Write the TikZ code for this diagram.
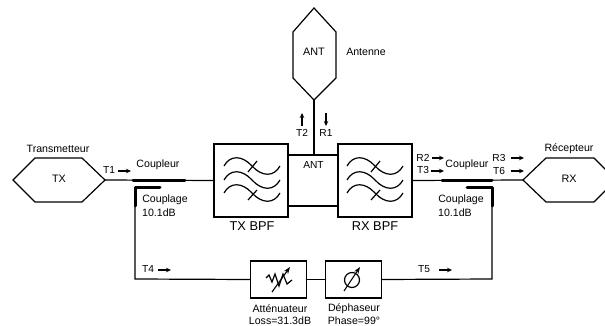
\documentclass[tikz,border=0pt]{standalone}
\usepackage{fontspec}
\setmainfont{Liberation Sans}
\usetikzlibrary{arrows.meta}
\tikzset{
  x=1pt,y=-1pt,
  wire/.style={line width=1.2pt,line join=miter},
  frame/.style={draw=black,line width=1.3pt,fill=white,inner sep=0pt,rectangle},
  thickwire/.style={line width=3pt,line cap=round,line join=round},
  lab/.style={inner sep=0pt,font=\fontsize{10.6}{12}\selectfont},
  small/.style={inner sep=0pt,font=\fontsize{10.2}{12}\selectfont},
  big/.style={inner sep=0pt,font=\fontsize{12.8}{14}\selectfont},
  flow/.style={line width=1.3pt,-{Stealth[length=5pt,width=4.5pt]}},
  wave/.style={line width=1.2pt},
}
\newcommand{\filtersym}[1]{%
  \begin{scope}[shift={(#1)}]
    \foreach \dy in {-14,0,13} {
      \draw[wave] (-28,\dy) .. controls (-22,{\dy-11}) and (-10,{\dy-11}) .. (0,\dy)
        .. controls (10,{\dy+11}) and (22,{\dy+11}) .. (28,\dy);
    }
    \draw[wave] (5,-19) -- (-4,-8);
    \draw[wave] (5,10) -- (-4,20);
  \end{scope}}
\begin{document}
\begin{tikzpicture}
\useasboundingbox (0,0) rectangle (605,326);
\begin{scope}
\clip (0,0) rectangle (605,326);
% hexagons
\draw[wire] (13,180) -- (35,158) -- (82,158) -- (105,180) -- (82,202) -- (35,202) -- cycle;
\draw[wire] (523,180) -- (546,158) -- (594,158) -- (616,180) -- (594,202) -- (546,202) -- cycle;
\draw[wire] (314,8) -- (336,32) -- (336,78) -- (314,100) -- (293,78) -- (293,32) -- cycle;
\end{scope}
\coordinate (txv) at (105,180);
\coordinate (rxv) at (523,180);
\coordinate (antv) at (314,100);
\node[inner sep=0pt,font=\fontsize{10.8}{12}\selectfont] (txh) at (59,179) {TX};
\node[inner sep=0pt,font=\fontsize{10.8}{12}\selectfont] (rxh) at (569,179) {RX};
\node[inner sep=0pt,font=\fontsize{10.8}{12}\selectfont] (anth) at (314,52) {ANT};
% boxes
\node[frame,minimum width=74pt,minimum height=73pt] (txbpf) at (251,180.5) {};
\node[frame,minimum width=74pt,minimum height=73pt] (rxbpf) at (375,180.5) {};
\node[frame,minimum width=56pt,minimum height=37pt] (att) at (278.5,279.5) {};
\node[frame,minimum width=56pt,minimum height=37pt] (phs) at (353.5,279.5) {};
% connectors
\coordinate (cp1a) at (133,180);
\coordinate (cp1b) at (185,180);
\coordinate (cp2a) at (442,180);
\coordinate (cp2b) at (492,180);
\coordinate (ca) at (160,187);
\coordinate (cc) at (135,187);
\coordinate (cd) at (135,206);
\coordinate (ce) at (135,279);
\coordinate (da) at (467,187);
\coordinate (dc) at (492,187);
\coordinate (dd) at (492,206);
\coordinate (de) at (492,279);
\coordinate (ja) at (313.5,155);
\coordinate (jb) at (313.5,206);
\draw[wire] (txv) -- (txbpf.west);
\draw[wire] (rxbpf.east) -- (rxv);
\draw[thickwire] (cp1a) -- (cp1b);
\draw[thickwire] (cp2a) -- (cp2b);
\draw[thickwire] (ca) -- (cc) -- (cd);
\draw[thickwire] (da) -- (dc) -- (dd);
\draw[wire] (cd) -- (ce) -- (att.west);
\draw[wire] (att.east) -- (phs.west);
\draw[wire] (phs.east) -- (de) -- (dd);
\draw[wire] (txbpf.east |- ja) -- (rxbpf.west |- ja);
\draw[wire] (txbpf.east |- jb) -- (rxbpf.west |- jb);
\draw[wire] (antv) -- (antv |- ja);
% filter symbols
\filtersym{252,180}
\filtersym{375,180}
% attenuator symbol
\draw[wave] (266,278) -- (269,275) -- (272,282) -- (275,274) -- (279,286) -- (283,274) -- (287,284) -- (292,280);
\draw[line width=1.1pt,-{Stealth[length=7pt,width=5pt]}] (272,292) -- (290,267);
% phase symbol
\draw[wave] (352,280) circle (7.5);
\draw[line width=1.1pt,-{Stealth[length=7pt,width=5pt]}] (344,291) -- (360,267);
% signal arrows
\coordinate (a1s) at (118,171); \coordinate (a1e) at (131,171);
\coordinate (a2s) at (432,158); \coordinate (a2e) at (444,158);
\coordinate (a3s) at (431,171); \coordinate (a3e) at (444,171);
\coordinate (a4s) at (511,158); \coordinate (a4e) at (524,158);
\coordinate (a5s) at (511,171); \coordinate (a5e) at (524,171);
\coordinate (a6s) at (302,126); \coordinate (a6e) at (302,113);
\coordinate (a7s) at (326,113); \coordinate (a7e) at (326,126);
\coordinate (a8s) at (158,270); \coordinate (a8e) at (171,270);
\coordinate (a9s) at (439,270); \coordinate (a9e) at (452,270);
\foreach \k in {1,...,9} \draw[flow] (a\k s) -- (a\k e);
% labels
\node[lab] (l1) at (58,149) {Transmetteur};
\node[lab] (l2) at (569,149) {Récepteur};
\node[lab] (l3) at (366,52) {Antenne};
\node[small] (t1) at (109,170) {T1};
\node[small] (r2) at (423,158) {R2};
\node[small] (t3) at (423,170) {T3};
\node[small] (r3) at (499,158) {R3};
\node[small] (t6) at (499,171) {T6};
\node[small] (t2) at (302,133) {T2};
\node[small] (r1) at (326,133) {R1};
\node[small] (t4) at (148,269) {T4};
\node[small] (t5) at (424,269) {T5};
\node[small] (antj) at (313.5,165) {ANT};
\node[lab] (c1) at (158,165) {Coupleur};
\node[lab] (c2) at (467,165) {Coupleur};
\node[lab] (g1) at (165,200) {Couplage};
\node[lab] (g1b) at (159,213) {10.1dB};
\node[lab] (g2) at (461,200) {Couplage};
\node[lab] (g2b) at (455,213) {10.1dB};
\node[big] (b1) at (252,226) {TX BPF};
\node[big] (b2) at (375,226) {RX BPF};
\node[lab] (n1) at (280,309) {Atténuateur};
\node[lab] (n2) at (280,321) {Loss=31.3dB};
\node[lab] (n3) at (354,309) {Déphaseur};
\node[lab] (n4) at (354,321) {Phase=99°};
\end{tikzpicture}
\end{document}
